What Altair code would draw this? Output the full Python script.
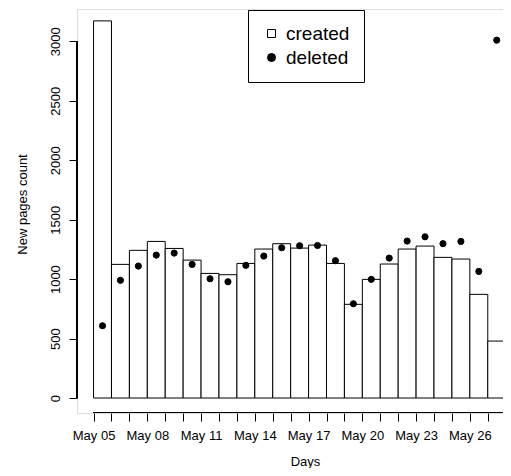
import altair as alt
import pandas as pd

days = ["May 05", "May 06", "May 07", "May 08", "May 09", "May 10", "May 11",
        "May 12", "May 13", "May 14", "May 15", "May 16", "May 17", "May 18",
        "May 19", "May 20", "May 21", "May 22", "May 23", "May 24", "May 25",
        "May 26", "May 27"]
created = [3172, 1124, 1242, 1317, 1258, 1160, 1048, 1037, 1132, 1253, 1298,
           1261, 1286, 1132, 788, 998, 1127, 1253, 1278, 1183, 1169, 872, 479]
deleted = [608, 990, 1110, 1202, 1219, 1124, 1003, 978, 1116, 1194, 1264,
           1281, 1283, 1155, 793, 998, 1177, 1320, 1356, 1298, 1317, 1065, 3010]
tick_labels = ["May 05", "May 08", "May 11", "May 14", "May 17", "May 20",
               "May 23", "May 26"]
y_ticks = [0, 500, 1000, 1500, 2000, 2500, 3000]
series = ["created", "deleted"]

n = len(days)
df = pd.DataFrame({
    "day": days,
    "idx": list(range(n)),
    "idx2": [i + 1 for i in range(n)],
    "mid": [i + 0.5 for i in range(n)],
    "created": created,
    "deleted": deleted,
    "series": ["deleted"] * n,
})

FONT = "Liberation Sans"
W, H = 426, 404

# label expression: label every third day tick
parts = []
for lab in tick_labels:
    k = days.index(lab)
    parts.append(f"datum.value == {k} ? '{lab}'")
label_expr = " : ".join(parts) + " : ''"

xscale = alt.Scale(domain=[-0.924, 22.85], nice=False, zero=False)
yscale = alt.Scale(domain=[-126, 3272], nice=False, zero=False)

xaxis = alt.Axis(values=list(range(n)), labelExpr=label_expr, domain=False,
                 grid=False, tickSize=8, tickColor="black", tickWidth=1,
                 labelColor="black", labelFont=FONT, labelFontSize=13,
                 labelPadding=8, labelFlush=False, labelOverlap=False,
                 title="Days", titleFont=FONT, titleFontSize=13,
                 titleFontWeight="normal", titleColor="black",
                 titleX=228, titleY=52, titleAlign="center",
                 titleBaseline="alphabetic")
yaxis = alt.Axis(values=y_ticks, format="d", domain=False, grid=False,
                 tickSize=8, tickColor="black", tickWidth=1,
                 labelColor="black", labelFont=FONT, labelFontSize=13,
                 labelAngle=270, labelAlign="center",
                 labelBaseline="alphabetic", labelPadding=10,
                 labelFlush=False, labelOverlap=False,
                 title="New pages count", titleFont=FONT, titleFontSize=13,
                 titleFontWeight="normal", titleColor="black", titleAngle=270,
                 titleX=-51, titleY=195, titleAlign="center",
                 titleBaseline="alphabetic")

legend = alt.Legend(title=None, orient="none", legendX=171, legendY=1,
                    padding=14, strokeColor="black", fillColor="white",
                    cornerRadius=0, labelFont=FONT, labelFontSize=19,
                    labelColor="black", symbolSize=64,
                    symbolStrokeWidth=1, labelOffset=5, rowPadding=4)

bars = alt.Chart(df).mark_rect(fill="white", stroke="black", strokeWidth=1,
                               clip=True).encode(
    x=alt.X("idx:Q", scale=xscale, axis=xaxis),
    x2="idx2:Q",
    y=alt.Y("created:Q", scale=yscale, axis=yaxis),
    y2=alt.datum(0),
)

points = alt.Chart(df).mark_point(filled=True, size=38, strokeWidth=1,
                                  opacity=1, clip=True).encode(
    x=alt.X("mid:Q", scale=xscale, axis=xaxis),
    y=alt.Y("deleted:Q", scale=yscale, axis=yaxis),
    shape=alt.Shape("series:N", scale=alt.Scale(domain=series,
                    range=["square", "circle"]), legend=legend),
    fill=alt.Fill("series:N", scale=alt.Scale(domain=series,
                  range=["white", "black"]), legend=legend),
    stroke=alt.Stroke("series:N", scale=alt.Scale(domain=series,
                      range=["black", "black"]), legend=legend),
)

yline = alt.Chart(df).mark_rule(color="black", strokeWidth=1).encode(
    x=alt.value(0),
    y=alt.datum(y_ticks[0], scale=yscale, axis=yaxis),
    y2=alt.datum(y_ticks[-1]),
)
xline = alt.Chart(df).mark_rule(color="black", strokeWidth=1, clip=True).encode(
    x=alt.datum(0, scale=xscale, axis=xaxis),
    x2=alt.datum(n),
    y=alt.value(H),
)

chart = alt.layer(bars, points, yline, xline).properties(
    width=W, height=H,
    autosize=alt.AutoSizeParams(type="none"),
    padding={"left": 69, "top": 1, "right": 0, "bottom": 55},
).configure_view(stroke=None).configure(background="white")

chart.save("out.html", embed_options={"renderer": "svg", "actions": False})
